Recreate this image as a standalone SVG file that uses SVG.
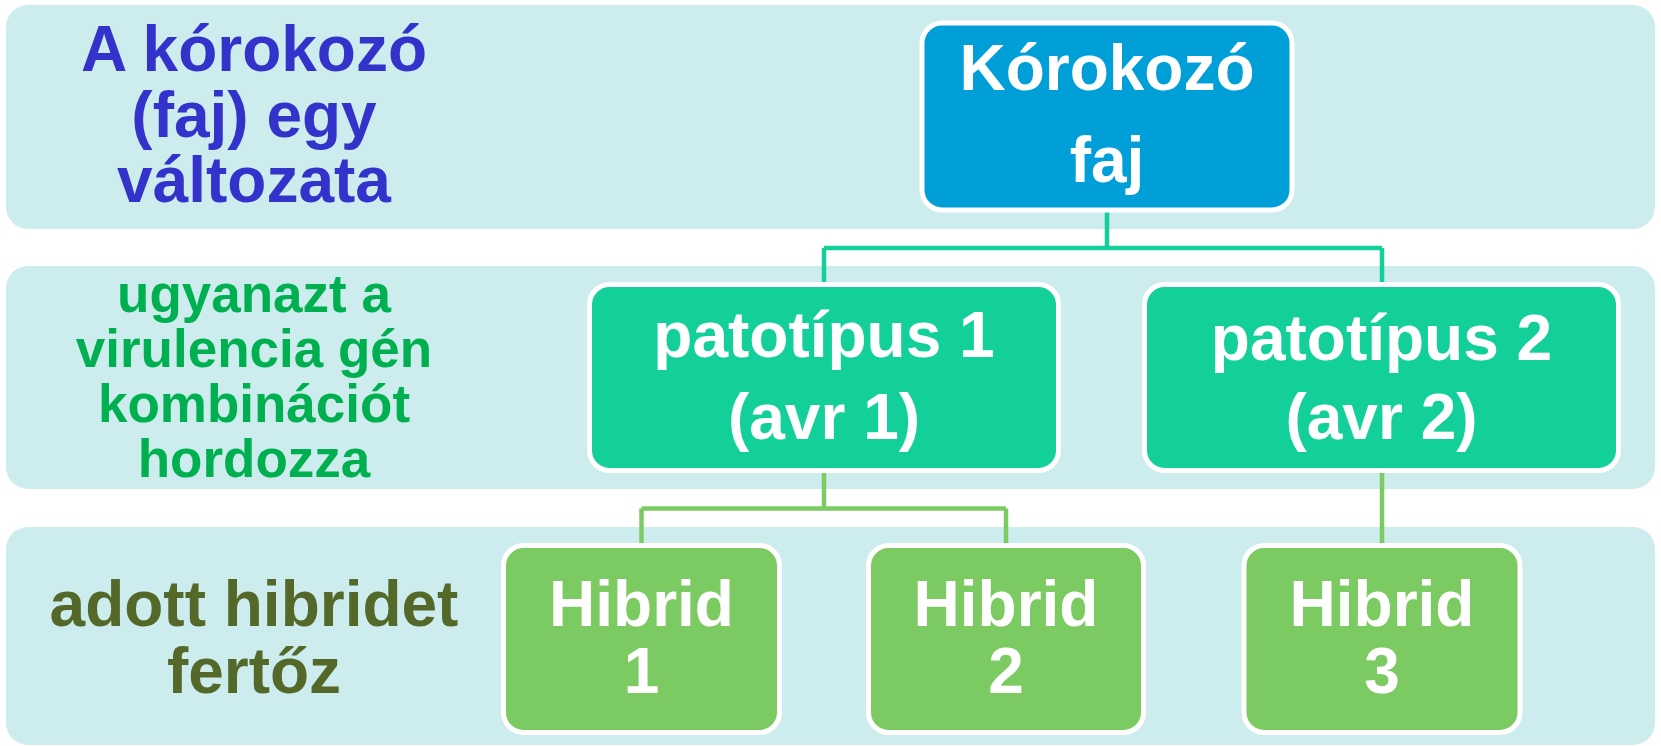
<svg xmlns="http://www.w3.org/2000/svg" width="1661" height="746" viewBox="0 0 1661 746">
  <style>
    .band { fill: #CCECEE; }
    .lbl { font-family: "Liberation Sans", Arial, sans-serif; font-weight: bold; text-anchor: middle; }
    .lbl1 { fill: #3333CC; font-size: 64px; }
    .lbl2 { fill: #00B050; font-size: 53px; }
    .lbl3 { fill: #54682A; font-size: 64px; }
    .box { stroke: #FFFFFF; stroke-width: 5; }
    .root { fill: #019FD8; }
    .path { fill: #13D09B; }
    .hyb { fill: #7CCB62; }
    .ntxt { font-family: "Liberation Sans", Arial, sans-serif; font-weight: bold; text-anchor: middle; fill: #FFFFFF; font-size: 64px; }
    .c1 { fill: none; stroke: #13D09B; stroke-width: 4.5; }
    .c2 { fill: none; stroke: #7CCB62; stroke-width: 4.5; }
  </style>

  <!-- level bands -->
  <g id="bands">
    <rect class="band" x="6" y="5" width="1649" height="224" rx="22"/>
    <rect class="band" x="6" y="266" width="1649" height="223" rx="22"/>
    <rect class="band" x="6" y="527" width="1649" height="218" rx="22"/>
  </g>

  <!-- level captions -->
  <g id="caption-species">
    <text class="lbl lbl1" x="254" y="71">A kórokozó</text>
    <text class="lbl lbl1" x="254" y="137">(faj) egy</text>
    <text class="lbl lbl1" x="254" y="202">változata</text>
  </g>
  <g id="caption-pathotype">
    <text class="lbl lbl2" x="254" y="312">ugyanazt a</text>
    <text class="lbl lbl2" x="254" y="367">virulencia gén</text>
    <text class="lbl lbl2" x="254" y="422">kombinációt</text>
    <text class="lbl lbl2" x="254" y="477">hordozza</text>
  </g>
  <g id="caption-hybrid">
    <text class="lbl lbl3" x="254" y="626">adott hibridet</text>
    <text class="lbl lbl3" x="254" y="693">fertőz</text>
  </g>

  <!-- connectors -->
  <g id="connectors">
    <path class="c1" d="M1107 210 V248 M824 248 H1382 M824 248 V284 M1382 248 V284"/>
    <path class="c2" d="M824 470 V508.5 M641.5 508.5 H1006 M641.5 508.5 V545 M1006 508.5 V545"/>
    <path class="c2" d="M1382 470 V545"/>
  </g>

  <!-- nodes -->
  <g id="node-species">
    <rect class="box root" x="922" y="23" width="370" height="187" rx="20"/>
    <text class="ntxt" x="1107" y="90">Kórokozó</text>
    <text class="ntxt" x="1107" y="182">faj</text>
  </g>
  <g id="node-pathotype-1">
    <rect class="box path" x="589.5" y="284.5" width="469" height="186" rx="20"/>
    <text class="ntxt" x="824" y="357" font-size="63">patotípus 1</text>
    <text class="ntxt" x="824" y="439" font-size="63">(avr 1)</text>
  </g>
  <g id="node-pathotype-2">
    <rect class="box path" x="1144.5" y="284.5" width="474" height="186" rx="20"/>
    <text class="ntxt" x="1381.5" y="360" font-size="63">patotípus 2</text>
    <text class="ntxt" x="1381.5" y="439" font-size="63">(avr 2)</text>
  </g>
  <g id="node-hybrid-1">
    <rect class="box hyb" x="503.5" y="545.5" width="276" height="187" rx="20"/>
    <text class="ntxt" x="641.5" y="626">Hibrid</text>
    <text class="ntxt" x="641.5" y="693">1</text>
  </g>
  <g id="node-hybrid-2">
    <rect class="box hyb" x="868.5" y="545.5" width="275" height="187" rx="20"/>
    <text class="ntxt" x="1006" y="626">Hibrid</text>
    <text class="ntxt" x="1006" y="693">2</text>
  </g>
  <g id="node-hybrid-3">
    <rect class="box hyb" x="1244" y="545.5" width="276" height="187" rx="20"/>
    <text class="ntxt" x="1382" y="626">Hibrid</text>
    <text class="ntxt" x="1382" y="693">3</text>
  </g>
</svg>
